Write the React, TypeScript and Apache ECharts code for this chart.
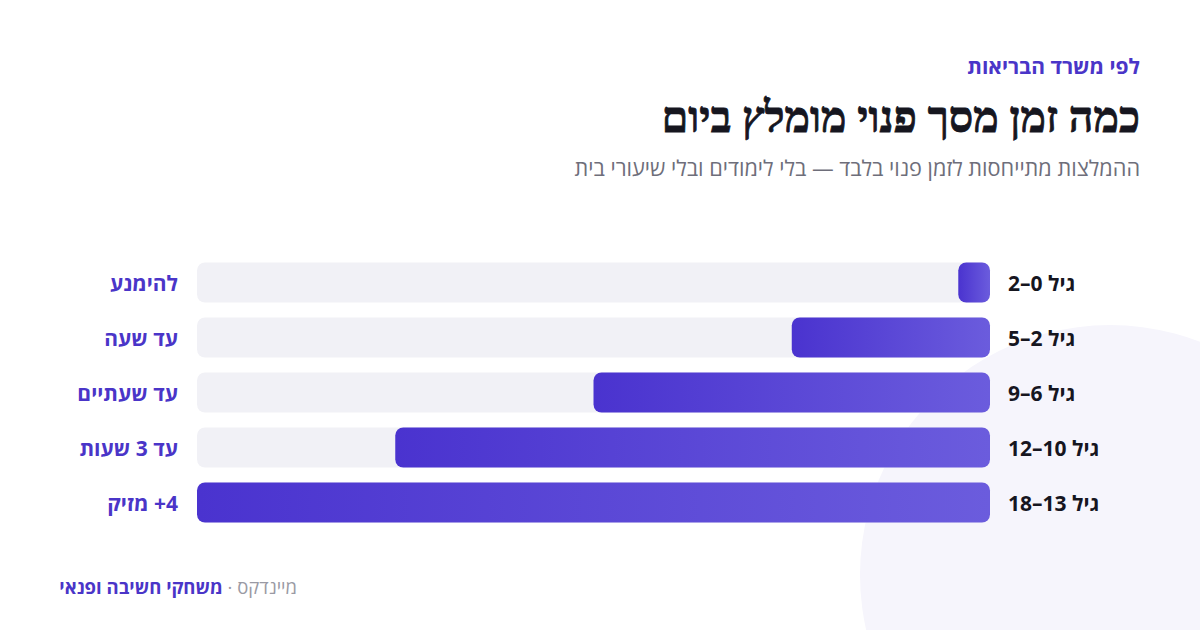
import { useEffect, useRef } from "react";
import * as echarts from "echarts";

const ageGroups = ["גיל 0–2", "גיל 2–5", "גיל 6–9", "גיל 10–12", "גיל 13–18"];
const recLabels = ["להימנע", "עד שעה", "עד שעתיים", "עד 3 שעות", "\u200F4+ מזיק"];
const hours = [0.16, 1, 2, 3, 4];

const PURPLE = "#4a35c8";
const SANS = "'Open Sans', 'DejaVu Sans', sans-serif";

export default function App() {
  const ref = useRef<HTMLDivElement>(null);

  useEffect(() => {
    document.body.style.margin = "0";
    if (!ref.current) return;
    const chart = echarts.init(ref.current, null, { renderer: "svg" });
    chart.setOption({
      animation: false,
      backgroundColor: "#ffffff",
      graphic: [
        {
          type: "circle",
          z: -10,
          silent: true,
          shape: { cx: 1110, cy: 575, r: 250 },
          style: { fill: "#f6f5fc" },
        },
        {
          type: "text",
          x: 1140,
          y: 66,
          style: {
            text: "לפי משרד הבריאות",
            align: "right",
            verticalAlign: "middle",
            fill: PURPLE,
            font: `bold 21px ${SANS}`,
          },
        },
        {
          type: "text",
          x: 1140,
          y: 117,
          style: {
            text: "כמה זמן מסך פנוי מומלץ ביום",
            align: "right",
            verticalAlign: "middle",
            fill: "#16161f",
            stroke: "#16161f",
            lineWidth: 0.8,
            font: "bold 43px 'Liberation Serif', serif",
          },
        },
        {
          type: "text",
          x: 1140,
          y: 167,
          style: {
            text: "ההמלצות מתייחסות לזמן פנוי בלבד — בלי לימודים ובלי שיעורי בית",
            align: "right",
            verticalAlign: "middle",
            fill: "#6e6e7a",
            font: `21.7px ${SANS}`,
          },
        },
        {
          type: "text",
          x: 297,
          y: 586,
          style: {
            text: "{b|משחקי חשיבה ופנאי}{g| · מיינדקס}",
            align: "right",
            verticalAlign: "middle",
            rich: {
              b: { fill: PURPLE, fontWeight: "bold", fontSize: 18.5, fontFamily: SANS },
              g: { fill: "#9a9aa4", fontSize: 18.5, fontFamily: SANS },
            },
          },
        },
      ],
      grid: { left: 197, right: 210, top: 255, height: 275 },
      xAxis: { type: "value", min: 0, max: 4, inverse: true, show: false },
      yAxis: [
        {
          type: "category",
          position: "right",
          inverse: true,
          data: ageGroups,
          axisLine: { show: false },
          axisTick: { show: false },
          axisLabel: {
            margin: 18,
            color: "#16161f",
            fontWeight: "bold",
            fontSize: 21,
            fontFamily: SANS,
          },
        },
        {
          type: "category",
          position: "left",
          inverse: true,
          data: recLabels,
          axisLine: { show: false },
          axisTick: { show: false },
          axisLabel: {
            margin: 19,
            color: PURPLE,
            fontWeight: "bold",
            fontSize: 21,
            fontFamily: SANS,
          },
        },
      ],
      series: [
        {
          type: "bar",
          yAxisIndex: 0,
          data: hours,
          barWidth: 40,
          showBackground: true,
          backgroundStyle: { color: "#f1f1f6", borderRadius: 8 },
          itemStyle: {
            borderRadius: 8,
            color: new echarts.graphic.LinearGradient(0, 0, 1, 0, [
              { offset: 0, color: "#4a33cf" },
              { offset: 1, color: "#6b5cdd" },
            ]),
          },
        },
      ],
    });
    return () => chart.dispose();
  }, []);

  return <div ref={ref} style={{ width: 1200, height: 630 }} />;
}
